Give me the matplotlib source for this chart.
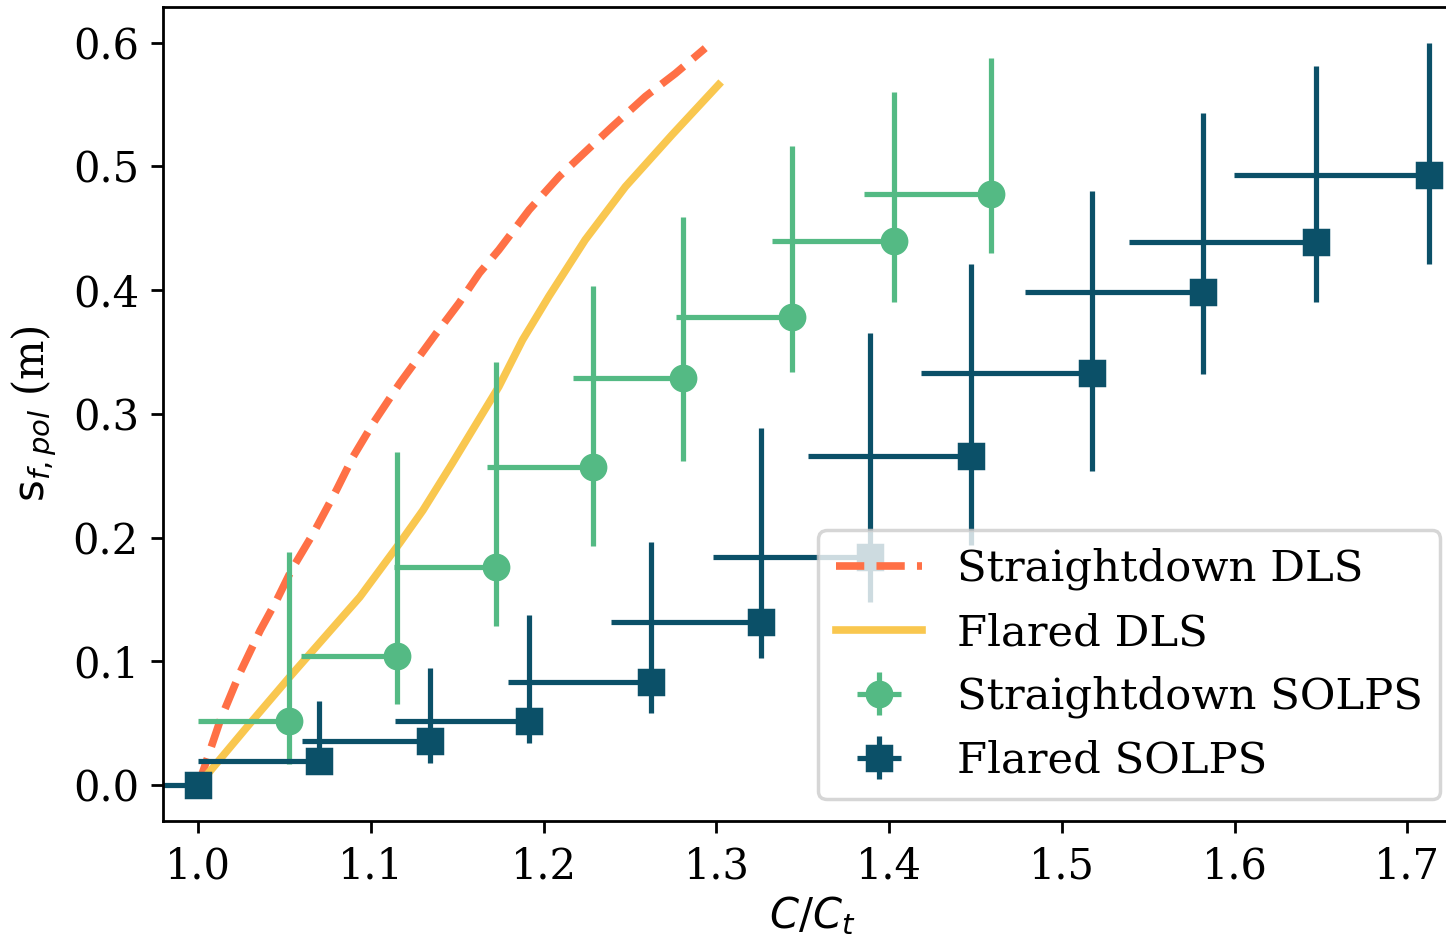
import matplotlib
matplotlib.use("Agg")
import matplotlib.pyplot as plt
import numpy as np

plt.rcParams["font.family"] = "DejaVu Serif"
plt.rcParams["mathtext.fontset"] = "dejavusans"
plt.rcParams["font.size"] = 12

# DLS model curves
sd_dls_x = [1.0, 1.0127, 1.024, 1.0358, 1.0454, 1.054, 1.0666, 1.08, 1.0896, 1.1012,
            1.1166, 1.1377, 1.151, 1.1627, 1.174, 1.1916, 1.2089, 1.2243, 1.2396,
            1.2589, 1.2762, 1.2935]
sd_dls_y = [0.0, 0.0525, 0.0905, 0.125, 0.1496, 0.174, 0.2035, 0.2385, 0.2654, 0.2924,
            0.3247, 0.365, 0.3896, 0.4137, 0.4325, 0.4649, 0.4918, 0.512, 0.532,
            0.5565, 0.575, 0.5955]

fl_dls_x = [1.0, 1.03, 1.053, 1.0935, 1.1166, 1.13, 1.147, 1.174, 1.1877, 1.203,
            1.224, 1.2473, 1.2743, 1.3012]
fl_dls_y = [0.0, 0.05, 0.0876, 0.152, 0.1956, 0.222, 0.26, 0.322, 0.3597, 0.395,
            0.4406, 0.4836, 0.5255, 0.5659]

# SOLPS straightdown: point, left edge of x range, y range
sd_x = [1.0527, 1.1152, 1.1722, 1.2287, 1.2808, 1.3436, 1.4028, 1.4588]
sd_xlo = [1.0, 1.0595, 1.1135, 1.167, 1.217, 1.2766, 1.3324, 1.3855]
sd_y = [0.0517, 0.104, 0.1765, 0.2568, 0.3288, 0.3786, 0.440, 0.4778]
sd_ylo = [0.017, 0.0655, 0.1286, 0.1935, 0.2622, 0.3336, 0.390, 0.4298]
sd_yhi = [0.188, 0.269, 0.342, 0.4036, 0.459, 0.5166, 0.560, 0.5875]

# SOLPS flared
fl_x = [1.0, 1.0697, 1.134, 1.1915, 1.262, 1.3256, 1.3889, 1.4473, 1.5174, 1.5817,
        1.6471, 1.7126]
fl_xlo = [0.95, 1.0, 1.0599, 1.1139, 1.1795, 1.239, 1.2982, 1.3529, 1.4185, 1.4785,
          1.5389, 1.5999]
fl_y = [0.0, 0.0194, 0.0358, 0.052, 0.0835, 0.1315, 0.1846, 0.266, 0.3333, 0.3985,
        0.4392, 0.4931]
fl_ylo = [0.0, 0.010, 0.0175, 0.0337, 0.058, 0.1031, 0.148, 0.194, 0.2538, 0.3323,
          0.390, 0.4214]
fl_yhi = [0.0, 0.068, 0.0948, 0.1374, 0.1967, 0.2884, 0.365, 0.4212, 0.480, 0.543,
          0.5814, 0.5996]


def err(v, lo, hi=None):
    # asymmetric errors: x only extends to the left, y between lo and hi
    v = np.array(v)
    lower = v - np.array(lo)
    upper = np.zeros_like(v) if hi is None else np.array(hi) - v
    return [lower, upper]


fig = plt.figure(figsize=(1446 / 250, 944 / 250), dpi=250)
ax = fig.add_axes([163.3 / 1446, 1 - 821 / 944, (1462 - 163.3) / 1446, (821 - 6.7) / 944])

ax.plot(sd_dls_x, sd_dls_y, ls="--", lw=2.2, color="#ff7046", label="Straightdown DLS")
ax.plot(fl_dls_x, fl_dls_y, ls="-", lw=2.2, color="#f9c74f", label="Flared DLS")

ax.errorbar(sd_x, sd_y, xerr=err(sd_x, sd_xlo), yerr=err(sd_y, sd_ylo, sd_yhi),
            fmt="o", ms=7, elinewidth=1.5, color="#54ba84", label="Straightdown SOLPS")
ax.errorbar(fl_x, fl_y, xerr=err(fl_x, fl_xlo), yerr=err(fl_y, fl_ylo, fl_yhi),
            fmt="s", ms=7, elinewidth=1.5, color="#0b5068", label="Flared SOLPS")

ax.set_xlim(0.9797, 1.7317)
ax.set_ylim(-0.029, 0.629)
ax.set_xlabel(r"$C/C_t$", labelpad=2)
ax.set_ylabel(r"$\mathrm{s}_{f,pol}$ (m)")
ax.legend(loc="lower right", fontsize=12.5)

fig.savefig("out.png", dpi=250)
